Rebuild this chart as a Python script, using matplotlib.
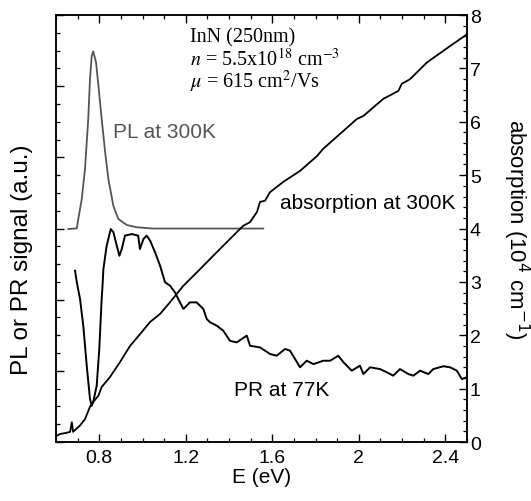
import matplotlib
matplotlib.use("Agg")
import matplotlib.pyplot as plt
from matplotlib.ticker import MultipleLocator, NullFormatter

plt.rcParams['font.family'] = ['Liberation Sans', 'DejaVu Sans']

# absorption at 300K (10^4 cm^-1), right axis
abs_E = [0.600, 0.618, 0.646, 0.665, 0.673, 0.679, 0.692, 0.711, 0.734, 0.757, 0.772,
         0.796, 0.811, 0.850, 0.896, 0.942, 0.988, 1.035, 1.081, 1.127, 1.187, 1.266,
         1.344, 1.418, 1.465, 1.497, 1.529, 1.543, 1.566, 1.589, 1.649, 1.728, 1.807,
         1.834, 1.990, 2.021, 2.113, 2.183, 2.198, 2.237, 2.314, 2.422, 2.500]
abs_val = [0.11, 0.15, 0.17, 0.19, 0.37, 0.19, 0.24, 0.31, 0.43, 0.66, 0.75,
           0.87, 1.03, 1.22, 1.50, 1.80, 2.02, 2.25, 2.40, 2.62, 2.92, 3.24,
           3.56, 3.86, 4.05, 4.12, 4.31, 4.50, 4.52, 4.68, 4.87, 5.08, 5.36,
           5.49, 6.05, 6.11, 6.43, 6.58, 6.71, 6.80, 7.11, 7.42, 7.64]

# PL at 300K (a.u.), left axis
pl_E = [0.657, 0.696, 0.703, 0.719, 0.734, 0.749, 0.757, 0.765, 0.772, 0.785, 0.796,
        0.811, 0.827, 0.842, 0.865, 0.888, 0.927, 0.973, 1.050, 1.558]
pl_val = [11.97, 12.01, 12.54, 13.66, 15.35, 18.16, 20.40, 21.71, 21.96, 21.34, 20.03,
          18.16, 16.30, 14.78, 13.28, 12.54, 12.20, 12.07, 12.00, 12.00]

# PR at 77K (a.u.), left axis
pr_E = [0.688, 0.696, 0.711, 0.726, 0.742, 0.757, 0.765, 0.772, 0.788, 0.800, 0.811,
        0.815, 0.819, 0.834, 0.853, 0.865, 0.881, 0.893, 0.904, 0.919, 0.950, 0.980,
        0.988, 1.004, 1.019, 1.035, 1.058, 1.081, 1.104, 1.127, 1.150, 1.165, 1.189,
        1.219, 1.250, 1.281, 1.297, 1.312, 1.343, 1.373, 1.404, 1.435, 1.482, 1.497,
        1.543, 1.589, 1.620, 1.659, 1.682, 1.705, 1.728, 1.759, 1.790, 1.836, 1.867,
        1.905, 1.929, 1.967, 2.005, 2.021, 2.052, 2.098, 2.129, 2.159, 2.190, 2.229,
        2.252, 2.283, 2.321, 2.344, 2.391, 2.422, 2.453, 2.476, 2.499]
pr_val = [9.63, 8.99, 8.04, 6.54, 4.29, 2.42, 2.04, 2.25, 3.16, 5.23, 8.04,
          8.79, 9.72, 11.03, 11.97, 11.80, 11.03, 10.47, 10.85, 11.60, 11.69, 11.60,
          10.85, 11.41, 11.60, 11.32, 10.66, 9.91, 8.98, 8.79, 8.41, 8.04, 7.48,
          7.85, 7.85, 7.48, 6.91, 6.73, 6.54, 6.26, 5.69, 5.60, 5.98, 5.41,
          5.32, 4.95, 4.85, 5.23, 5.13, 4.67, 4.20, 4.57, 4.38, 4.57, 4.57,
          4.85, 4.48, 4.01, 4.29, 3.82, 4.20, 4.10, 3.92, 3.73, 4.10, 3.82,
          3.73, 4.01, 3.82, 4.10, 4.26, 4.20, 4.01, 3.54, 3.64]

fig = plt.figure(figsize=(5.31, 5.02), dpi=100)
ax = fig.add_axes([0.1055, 0.1175, 0.774, 0.8505])
ax2 = ax.twinx()

ax.plot(pl_E, pl_val, color='#555555', lw=1.3)
ax.plot(pr_E, pr_val, color='black', lw=1.4)
ax2.plot(abs_E, abs_val, color='black', lw=1.3)

ax.set_xlim(0.6, 2.5)
ax.set_ylim(0, 24)
ax2.set_ylim(0, 8)

ax.xaxis.set_minor_locator(MultipleLocator(0.1))
ax.set_xticks([0.8, 1.2, 1.6, 2.0, 2.4])
ax.set_xticklabels(['0.8', '1.2', '1.6', '2', '2.4'])
ax.yaxis.set_major_locator(MultipleLocator(4))
ax.yaxis.set_minor_locator(MultipleLocator(1))
ax.yaxis.set_major_formatter(NullFormatter())
ax2.yaxis.set_major_locator(MultipleLocator(1))
ax2.yaxis.set_minor_locator(MultipleLocator(0.2))

ax.tick_params(axis='x', which='both', direction='in', top=True, labelsize=14, pad=5)
ax.tick_params(axis='y', which='both', direction='in', right=False)
ax.tick_params(which='major', length=5.5, width=1)
ax.tick_params(which='minor', length=3.2, width=0.9)
ax2.tick_params(axis='y', which='both', direction='in', labelsize=14, pad=2)
ax2.tick_params(which='major', length=5.5, width=1)
ax2.tick_params(which='minor', length=3.2, width=0.9)
for a in (ax, ax2):
    for s in a.spines.values():
        s.set_linewidth(1.1)

ax.set_xlabel('E (eV)', fontsize=15, labelpad=1)
ax.set_ylabel('PL or PR signal (a.u.)', fontsize=17.5, va='center', ha='center')
ax.yaxis.set_label_coords(-0.083, 0.43)
ax2.set_ylabel('absorption (10$^{4}$ cm$^{-1}$)', fontsize=16, rotation=270,
               va='center', ha='center')
ax2.yaxis.set_label_coords(1.119, 0.5)

serif = ['Liberation Serif', 'DejaVu Serif']
ax.text(0.326, 0.948, 'InN (250nm)', transform=ax.transAxes, fontsize=14.5,
        family=serif, va='center', ha='left')
ax.text(0.326, 0.897, r'$n$ = 5.5x10$^{18}$ cm$^{-3}$', transform=ax.transAxes, fontsize=14.5,
        family=serif, va='center', ha='left', math_fontfamily='stix')
ax.text(0.326, 0.845, r'$\mu$ = 615 cm$^{2}$/Vs', transform=ax.transAxes, fontsize=14.5,
        family=serif, va='center', ha='left', math_fontfamily='stix')
ax.text(0.139, 0.728, 'PL at 300K', transform=ax.transAxes, fontsize=15,
        color='#555555', va='center', ha='left')
ax.text(0.545, 0.562, 'absorption at 300K', transform=ax.transAxes, fontsize=15,
        va='center', ha='left')
ax.text(0.433, 0.124, 'PR at 77K', transform=ax.transAxes, fontsize=15,
        va='center', ha='left')

fig.savefig('out.png', dpi=100)
